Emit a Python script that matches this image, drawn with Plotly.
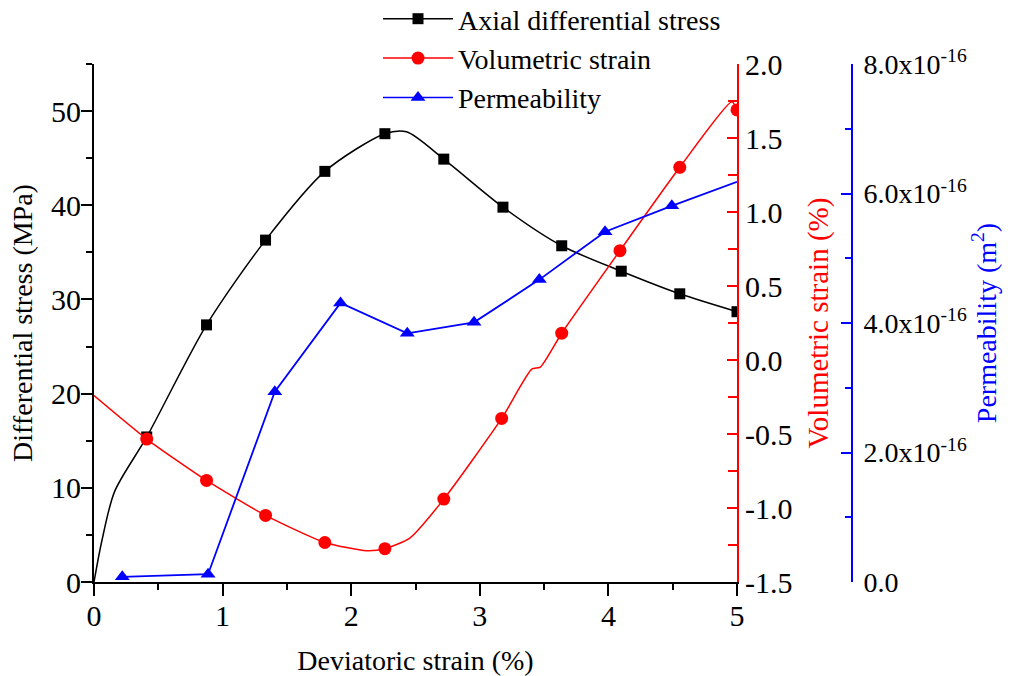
import plotly.graph_objects as go

# ---------------- data ----------------
# Axial differential stress (MPa) – curve points and marker points
stress_curve_x = [0.0, 0.06, 0.16, 0.41, 0.875, 1.334, 1.795, 2.262, 2.43, 2.72, 3.18, 3.637, 4.10, 4.555, 5.0]
stress_curve_y = [0.0, 4.3, 9.6, 15.4, 27.3, 36.3, 43.6, 47.6, 47.8, 44.9, 39.8, 35.7, 33.0, 30.6, 28.7]
stress_mark_x = [0.41, 0.875, 1.334, 1.795, 2.262, 2.72, 3.18, 3.637, 4.10, 4.555, 5.0]
stress_mark_y = [15.4, 27.3, 36.3, 43.6, 47.6, 44.9, 39.8, 35.7, 33.0, 30.6, 28.7]

# Volumetric strain (%)
vol_curve_x = [0.0, 0.41, 0.875, 1.334, 1.795, 2.12, 2.262, 2.456, 2.72, 3.17, 3.404, 3.47, 3.637, 4.09, 4.555, 4.96, 5.0]
vol_curve_y = [-0.24, -0.534, -0.814, -1.05, -1.233, -1.289, -1.275, -1.203, -0.94, -0.395, -0.062, -0.048, 0.181, 0.739, 1.302, 1.745, 1.69]
vol_mark_x = [0.41, 0.875, 1.334, 1.795, 2.262, 2.72, 3.17, 3.637, 4.09, 4.555, 5.0]
vol_mark_y = [-0.534, -0.814, -1.05, -1.233, -1.275, -0.94, -0.395, 0.181, 0.739, 1.302, 1.69]

# Permeability (m^2)
perm_curve_x = [0.22, 0.887, 1.406, 1.917, 2.436, 2.955, 3.463, 3.974, 4.493, 5.0]
perm_curve_y = [0.08e-16, 0.12e-16, 2.94e-16, 4.31e-16, 3.84e-16, 4.01e-16, 4.67e-16, 5.41e-16, 5.81e-16, 6.18e-16]
perm_mark_x = [0.22, 0.887, 1.406, 1.917, 2.436, 2.955, 3.463, 3.974, 4.493]
perm_mark_y = [0.08e-16, 0.12e-16, 2.94e-16, 4.31e-16, 3.84e-16, 4.01e-16, 4.67e-16, 5.41e-16, 5.81e-16]

# tick values / labels
x_ticks = [0, 1, 2, 3, 4, 5]
stress_ticks = [0, 10, 20, 30, 40, 50]
vol_ticks = [-1.5, -1.0, -0.5, 0.0, 0.5, 1.0, 1.5, 2.0]
vol_labels = ["-1.5", "-1.0", "-0.5", "0.0", "0.5", "1.0", "1.5", "2.0"]
perm_ticks = [0, 2e-16, 4e-16, 6e-16, 8e-16]
perm_labels = ["0.0", "2.0x10<sup>-16</sup>", "4.0x10<sup>-16</sup>",
               "6.0x10<sup>-16</sup>", "8.0x10<sup>-16</sup>"]

names = ["Axial differential stress", "Volumetric strain", "Permeability"]

BLACK, RED, BLUE = "#000000", "#ff0000", "#0000ff"
FONT = "Liberation Serif"

fig = go.Figure()

# legend entries
fig.add_trace(go.Scatter(x=[None], y=[None], mode="lines+markers", name=names[0],
                         line=dict(color=BLACK, width=1.5),
                         marker=dict(symbol="square", size=11, color=BLACK)))
fig.add_trace(go.Scatter(x=[None], y=[None], mode="lines+markers", name=names[1],
                         line=dict(color=RED, width=1.5),
                         marker=dict(symbol="circle", size=13, color=RED)))
fig.add_trace(go.Scatter(x=[None], y=[None], mode="lines+markers", name=names[2],
                         line=dict(color=BLUE, width=1.5),
                         marker=dict(symbol="triangle-up", size=13, color=BLUE)))

# stress
fig.add_trace(go.Scatter(x=stress_curve_x, y=stress_curve_y, mode="lines", showlegend=False,
                         line=dict(color=BLACK, width=1.5, shape="spline", smoothing=0.8),
                         hoverinfo="skip"))
fig.add_trace(go.Scatter(x=stress_mark_x, y=stress_mark_y, mode="markers", showlegend=False,
                         name=names[0], marker=dict(symbol="square", size=11, color=BLACK)))
# volumetric strain
fig.add_trace(go.Scatter(x=vol_curve_x, y=vol_curve_y, mode="lines", showlegend=False, yaxis="y2",
                         line=dict(color=RED, width=1.5, shape="spline", smoothing=0.6),
                         hoverinfo="skip"))
fig.add_trace(go.Scatter(x=vol_mark_x, y=vol_mark_y, mode="markers", showlegend=False, yaxis="y2",
                         name=names[1], marker=dict(symbol="circle", size=13, color=RED)))
# permeability
fig.add_trace(go.Scatter(x=perm_curve_x, y=perm_curve_y, mode="lines", showlegend=False, yaxis="y3",
                         line=dict(color=BLUE, width=1.8), hoverinfo="skip"))
fig.add_trace(go.Scatter(x=perm_mark_x, y=perm_mark_y, mode="markers", showlegend=False, yaxis="y3",
                         name=names[2], marker=dict(symbol="triangle-up", size=13, color=BLUE)))

W, H = 1010, 676
L, R, T, B = 94, 158, 64, 94
plot_w = 737 - 94
paper_w = W - L - R
plot_h = 582 - 64

fig.update_layout(
    width=W, height=H,
    margin=dict(l=L, r=R, t=T, b=B, autoexpand=False),
    paper_bgcolor="white", plot_bgcolor="white",
    font=dict(family=FONT, size=28, color="black"),
    showlegend=True,
    legend=dict(x=(378 - L) / paper_w, xanchor="left", y=1 + 70 / plot_h, yanchor="top",
                bgcolor="rgba(0,0,0,0)", font=dict(family=FONT, size=28, color="black"),
                itemwidth=70, tracegroupgap=0),
    xaxis=dict(domain=[0, plot_w / paper_w], range=[0, 5], tickvals=x_ticks,
               ticks="outside", ticklen=12, tickwidth=2, tickcolor=BLACK,
               showline=True, linewidth=2, linecolor=BLACK, showgrid=False, zeroline=False,
               minor=dict(dtick=0.5, tick0=0, ticks="outside", ticklen=6, tickwidth=2, tickcolor=BLACK),
               tickfont=dict(size=30), ticklabelstandoff=-6,
               title=dict(text="Deviatoric strain (%)", font=dict(size=28), standoff=20)),
    yaxis=dict(range=[0, 55], tickvals=stress_ticks,
               ticks="outside", ticklen=11, tickwidth=2, tickcolor=BLACK,
               showline=True, linewidth=2, linecolor=BLACK, showgrid=False, zeroline=False,
               minor=dict(dtick=5, tick0=0, ticks="outside", ticklen=6, tickwidth=2, tickcolor=BLACK),
               tickfont=dict(size=30), ticklabelstandoff=-6,
               title=dict(text="Differential stress (MPa)", font=dict(size=28), standoff=10)),
    yaxis2=dict(overlaying="y", side="right", anchor="x", range=[-1.5, 2.0],
                tickvals=vol_ticks, ticktext=vol_labels,
                ticks="inside", ticklen=10, tickwidth=2, tickcolor=RED,
                showline=True, linewidth=2, linecolor=RED, showgrid=False, zeroline=False,
                minor=dict(dtick=0.25, tick0=-1.5, ticks="inside", ticklen=9, tickwidth=2, tickcolor=RED),
                tickfont=dict(size=30, color=BLACK),
                title=dict(text="Volumetric strain (%)", font=dict(size=29, color=RED), standoff=16)),
    yaxis3=dict(overlaying="y", side="right", anchor="free", position=1.0, range=[0, 8e-16],
                tickvals=perm_ticks, ticktext=perm_labels,
                ticks="inside", ticklen=10, tickwidth=2, tickcolor=BLUE,
                showline=True, linewidth=2, linecolor=BLUE, showgrid=False, zeroline=False,
                minor=dict(dtick=1e-16, tick0=0, ticks="inside", ticklen=6, tickwidth=2, tickcolor=BLUE),
                tickfont=dict(size=28, color=BLACK), ticklabelstandoff=5,
                title=dict(text="Permeability (m<sup>2</sup>)", font=dict(size=28, color=BLUE), standoff=4)),
)

fig.write_html("out.html")
